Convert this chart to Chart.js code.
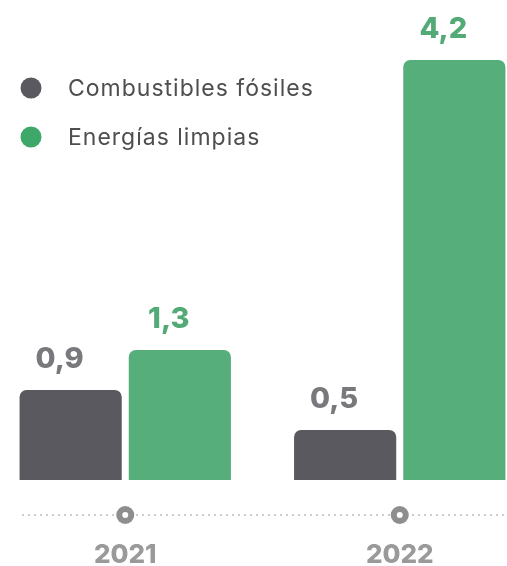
<!DOCTYPE html>
<html>
<head>
<meta charset="utf-8">
<script src="https://cdn.jsdelivr.net/npm/chart.js@4"></script>
<style>
  html, body { margin: 0; padding: 0; background: #fff; overflow: hidden; }
  #wrap { position: absolute; left: -12px; top: 0; width: 549px; height: 566px; }
</style>
</head>
<body>
<div id="wrap"><canvas id="chart" width="549" height="566"></canvas></div>
<script>
/************ DATA ************/
const years = ["2021", "2022"];
const seriesNames = ["Combustibles fósiles", "Energías limpias"];
const fossil = [0.9, 0.5];
const clean = [1.3, 4.2];

/************ STYLE ************/
const FONT = "Inter, 'Noto Sans', sans-serif";
const barColors = ["#5b5960", "#56ae7b"];
const legendColors = ["#5b5960", "#3da86a"];
const labelColors = ["#79787d", "#52aa76"];

/************ FORMAT ************/
function fmt(v) {
  return v.toFixed(1).replace(".", ",");
}

/************ DECOR PLUGIN ************/
const decor = {
  id: "decor",
  afterDatasetsDraw(chart) {
    const ctx = chart.ctx;
    const xs = chart.scales.x;
    const axisY = xs.top;

    // dotted axis line
    ctx.save();
    ctx.strokeStyle = "#cdcdcd";
    ctx.lineWidth = 2;
    ctx.setLineDash([2, 4]);
    ctx.beginPath();
    ctx.moveTo(34, axisY);
    ctx.lineTo(chart.width, axisY);
    ctx.stroke();
    ctx.setLineDash([]);

    // ring markers on ticks
    years.forEach((y, i) => {
      const x = xs.getPixelForTick(i);
      ctx.fillStyle = "#8e8e8e";
      ctx.beginPath();
      ctx.arc(x, axisY, 9, 0, Math.PI * 2);
      ctx.fill();
      ctx.fillStyle = "#fff";
      ctx.beginPath();
      ctx.arc(x, axisY, 3, 0, Math.PI * 2);
      ctx.fill();
    });

    // value labels
    ctx.font = "800 29px " + FONT;
    ctx.textAlign = "center";
    ctx.textBaseline = "alphabetic";
    chart.data.datasets.forEach((ds, di) => {
      const meta = chart.getDatasetMeta(di);
      meta.data.forEach((bar, j) => {
        ctx.fillStyle = labelColors[di];
        ctx.fillText(fmt(ds.data[j]), bar.x - 11, bar.y - 22);
      });
    });

    // legend
    ctx.font = "23px " + FONT;
    ctx.letterSpacing = "1px";
    ctx.textAlign = "left";
    ctx.textBaseline = "middle";
    seriesNames.forEach((name, i) => {
      const cy = 88 + i * 49;
      ctx.fillStyle = legendColors[i];
      ctx.beginPath();
      ctx.arc(31 + 12, cy, 10.5, 0, Math.PI * 2);
      ctx.fill();
      ctx.fillStyle = "#4e4e4e";
      ctx.fillText(name, 68 + 12, cy + 1);
    });
    ctx.restore();
  }
};

/************ CHART ************/
new Chart(document.getElementById("chart"), {
  type: "bar",
  data: {
    labels: years,
    datasets: [
      { label: seriesNames[0], data: fossil, backgroundColor: barColors[0] },
      { label: seriesNames[1], data: clean, backgroundColor: barColors[1] }
    ]
  },
  options: {
    responsive: false,
    animation: false,
    layout: { padding: 0 },
    datasets: {
      bar: {
        categoryPercentage: 0.7956,
        barPercentage: 0.9358,
        borderRadius: 7,
        borderSkipped: "start"
      }
    },
    plugins: {
      legend: { display: false },
      tooltip: { enabled: false }
    },
    scales: {
      x: {
        grid: { display: false },
        border: { display: false },
        ticks: {
          color: "#9a9a9a",
          padding: 17,
          font: { family: FONT, size: 26, weight: "800" }
        },
        afterFit(scale) { scale.height = 51; }
      },
      y: {
        display: false,
        min: -0.35,
        max: 4.8
      }
    }
  },
  plugins: [decor]
});
</script>
</body>
</html>
